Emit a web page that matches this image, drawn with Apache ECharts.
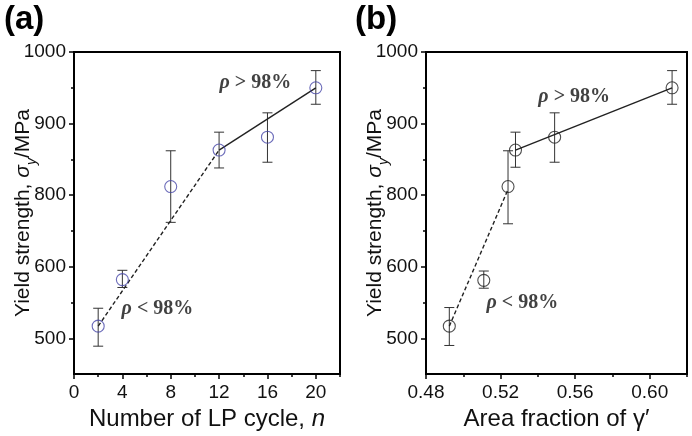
<!DOCTYPE html>
<html>
<head>
<meta charset="utf-8">
<script src="https://cdn.jsdelivr.net/npm/echarts@6/dist/echarts.min.js"></script>
<style>html,body{margin:0;padding:0;background:#fff}#c{width:692px;height:436px}</style>
</head>
<body>
<div id="c"></div>
<script>
// ---- data (real values, MPa) ----
const nCycles = [2, 4, 8, 12, 16, 20];
const strengthA = [517, 582, 812, 863, 881, 950];
const errLowA = [489, 571, 762, 838, 846, 927];
const errHighA = [542, 595, 862, 888, 915, 974];

const areaFraction = [0.4925, 0.511, 0.524, 0.528, 0.549, 0.612];
const strengthB = [517, 581, 812, 863, 881, 950];
const errLowB = [490, 570, 760, 839, 846, 927];
const errHighB = [543, 594, 862, 888, 915, 974];

// fitted lines (endpoints)
const fitLowAx = [2, 12], fitLowAy = [517, 863];
const fitHighAx = [12, 20], fitHighAy = [863, 950];
const fitLowBx = [0.4925, 0.524], fitLowBy = [517, 808];
const fitHighBx = [0.528, 0.612], fitHighBy = [863, 950];

// tick labels
const xTicksA = [0, 4, 8, 12, 16, 20];
const xMinorA = [2, 6, 10, 14, 18, 22];
const xTicksB = [0.48, 0.52, 0.56, 0.60];
const xMinorB = [0.50, 0.54, 0.58, 0.62];
const yTickLabels = [500, 600, 800, 900, 1000];
const yMinor = [550, 750, 850, 950];

// annotations
const annotText = ['ρ > 98%', 'ρ < 98%'];
const annotA = [[15.0, 957], [6.9, 541]];
const annotB = [[0.5595, 938], [0.5317, 549]];

// ---- broken y axis as drawn in the source: labels 600 and 800 are one step apart ----
function brk(v) { return v <= 600 ? v : (v < 700 ? 600 : v - 100); }
function unbrk(d) { return d <= 600 ? d : d + 100; }

const SANS = 'Liberation Sans, Arial, sans-serif';
const SERIF = 'Liberation Serif, Times New Roman, serif';

function xMajor(grid, min, max, ticks, fmt, name, gap) {
  return {
    gridIndex: grid, type: 'value', min: min, max: max, position: 'bottom',
    axisLine: { onZero: false, lineStyle: { color: '#000', width: 2 } },
    axisTick: { customValues: ticks, length: 5, lineStyle: { color: '#000', width: 1.5 } },
    axisLabel: { customValues: ticks, margin: 9, color: '#111', fontSize: 19, fontFamily: SANS, formatter: fmt },
    splitLine: { show: false },
    name: name, nameLocation: 'middle', nameGap: gap,
    nameTextStyle: { color: '#111', fontSize: 24, fontFamily: SANS,
      rich: { t: { fontSize: 24, fontFamily: SANS, color: '#111' }, i: { fontSize: 24, fontFamily: SANS, fontStyle: 'italic', color: '#111' } } }
  };
}
function xMinorAx(grid, min, max, ticks) {
  return {
    gridIndex: grid, type: 'value', min: min, max: max, position: 'bottom',
    axisLine: { show: false, onZero: false },
    axisTick: { customValues: ticks, length: 3, lineStyle: { color: '#000', width: 1.5 } },
    axisLabel: { show: false }, splitLine: { show: false }
  };
}
const yTitle = '{t|Yield strength, }{s|σ}{sub|y}{t|/MPa}';
function yMajor(grid, gap) {
  const ticks = yTickLabels.map(brk);
  return {
    gridIndex: grid, type: 'value', min: brk(450), max: brk(1000), position: 'left',
    axisLine: { onZero: false, lineStyle: { color: '#000', width: 2 } },
    axisTick: { customValues: ticks, length: 5, lineStyle: { color: '#000', width: 1.5 } },
    axisLabel: { customValues: ticks, margin: 8, color: '#111', fontSize: 19, fontFamily: SANS,
      formatter: function (d) { return String(Math.round(unbrk(d))); } },
    splitLine: { show: false },
    name: yTitle, nameLocation: 'middle', nameRotate: 90, nameGap: gap, nameMoveOverlap: false,
    nameTextStyle: {
      rich: {
        t: { fontSize: 21, fontFamily: SANS, color: '#111', lineHeight: 26, verticalAlign: 'bottom' },
        s: { fontSize: 21, fontFamily: SANS, fontStyle: 'italic', color: '#111', lineHeight: 26, verticalAlign: 'bottom' },
        sub: { fontSize: 14, fontFamily: SANS, fontStyle: 'italic', color: '#111', lineHeight: 14, verticalAlign: 'bottom', padding: [0, 0, -5, 0] }
      }
    }
  };
}
function yMinorAx(grid) {
  return {
    gridIndex: grid, type: 'value', min: brk(450), max: brk(1000), position: 'left',
    axisLine: { show: false, onZero: false },
    axisTick: { customValues: yMinor.map(brk), length: 3, lineStyle: { color: '#000', width: 1.5 } },
    axisLabel: { show: false }, splitLine: { show: false }
  };
}

function errSeries(xi, yi, xs, lo, hi) {
  return {
    type: 'custom', xAxisIndex: xi, yAxisIndex: yi, z: 3,
    data: xs.map((x, i) => [x, brk(lo[i]), brk(hi[i])]),
    renderItem: function (params, api) {
      const a = api.coord([api.value(0), api.value(1)]);
      const b = api.coord([api.value(0), api.value(2)]);
      const w = 5;
      const st = { stroke: '#333', lineWidth: 1 };
      return { type: 'group', children: [
        { type: 'line', shape: { x1: a[0], y1: a[1], x2: b[0], y2: b[1] }, style: st },
        { type: 'line', shape: { x1: a[0] - w, y1: a[1], x2: a[0] + w, y2: a[1] }, style: st },
        { type: 'line', shape: { x1: b[0] - w, y1: b[1], x2: b[0] + w, y2: b[1] }, style: st }
      ] };
    }
  };
}
function lineSeries(xi, yi, xs, ys, type) {
  return {
    type: 'line', xAxisIndex: xi, yAxisIndex: yi, symbol: 'none', z: 4,
    data: xs.map((x, i) => [x, brk(ys[i])]),
    lineStyle: { color: '#222', width: 1.4, type: type === 'dashed' ? [4, 2.5] : 'solid' }
  };
}
function pointSeries(xi, yi, xs, ys, color) {
  return {
    type: 'scatter', xAxisIndex: xi, yAxisIndex: yi, z: 5,
    symbol: 'circle', symbolSize: 12,
    itemStyle: { color: 'rgba(255,255,255,0)', borderColor: color, borderWidth: 1.1 },
    data: xs.map((x, i) => [x, brk(ys[i])])
  };
}
function annotSeries(xi, yi, pts) {
  return {
    type: 'scatter', xAxisIndex: xi, yAxisIndex: yi, z: 6, symbolSize: 0, silent: true,
    data: pts.map((p) => [p[0], brk(p[1])]),
    label: {
      show: true, position: 'inside',
      formatter: function (p) { const t = annotText[p.dataIndex]; return '{r|' + t[0] + '}{t|' + t.slice(1) + '}'; },
      rich: {
        r: { fontFamily: SERIF, fontSize: 20, fontWeight: 'bold', fontStyle: 'italic', color: '#111' },
        t: { fontFamily: SERIF, fontSize: 20, fontWeight: 'bold', color: '#111' }
      }
    }
  };
}

const chart = echarts.init(document.getElementById('c'), null, { renderer: 'canvas' });
chart.setOption({
  animation: false,
  backgroundColor: '#fff',
  grid: [
    { left: 74, top: 52, width: 266, height: 327, show: true, borderColor: '#000', borderWidth: 2, backgroundColor: 'transparent' },
    { left: 426, top: 52, width: 261, height: 328, show: true, borderColor: '#000', borderWidth: 2, backgroundColor: 'transparent' }
  ],
  xAxis: [
    xMajor(0, 0, 22, xTicksA, null, '{t|Number of LP cycle, }{i|n}', 29),
    xMinorAx(0, 0, 22, xMinorA),
    xMajor(1, 0.48, 0.62, xTicksB, function (v) { return v.toFixed(2); }, '{t|Area fraction of γ′}', 29),
    xMinorAx(1, 0.48, 0.62, xMinorB)
  ],
  yAxis: [ yMajor(0, 40), yMinorAx(0), yMajor(1, 40), yMinorAx(1) ],
  graphic: [
    { type: 'text', left: 4, top: 3, style: { text: '(a)', font: 'bold 33px ' + SANS, fill: '#000' } },
    { type: 'text', left: 355, top: 3, style: { text: '(b)', font: 'bold 33px ' + SANS, fill: '#000' } }
  ],
  series: [
    errSeries(0, 0, nCycles, errLowA, errHighA),
    lineSeries(0, 0, fitLowAx, fitLowAy, 'dashed'),
    lineSeries(0, 0, fitHighAx, fitHighAy, 'solid'),
    pointSeries(0, 0, nCycles, strengthA, '#4646a8'),
    annotSeries(0, 0, annotA),
    errSeries(2, 2, areaFraction, errLowB, errHighB),
    lineSeries(2, 2, fitLowBx, fitLowBy, 'dashed'),
    lineSeries(2, 2, fitHighBx, fitHighBy, 'solid'),
    pointSeries(2, 2, areaFraction, strengthB, '#222'),
    annotSeries(2, 2, annotB)
  ]
});
</script>
</body>
</html>
